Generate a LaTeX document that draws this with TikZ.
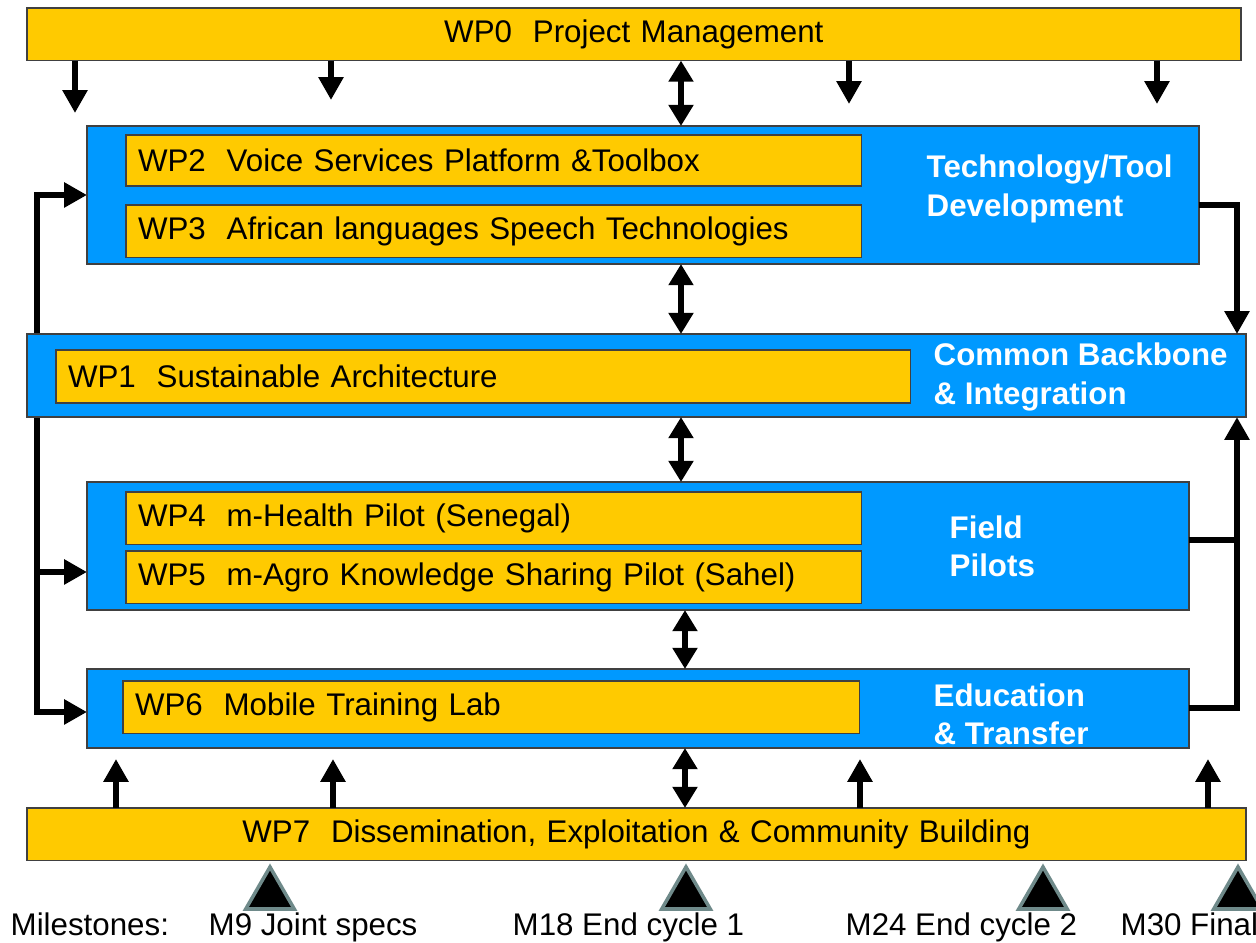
\documentclass[tikz,border=0pt]{standalone}
\usepackage{fontspec}
\setmainfont{Liberation Sans}
\usetikzlibrary{arrows.meta,shapes.geometric,backgrounds}
\definecolor{wpyellow}{HTML}{FFCA00}
\definecolor{grpblue}{HTML}{0099FF}
\definecolor{msgray}{HTML}{6F8A8A}
\tikzset{
  wp/.style={draw=black!75, line width=0.5pt, fill=wpyellow, anchor=north west, outer sep=0pt,
             inner xsep=0.12cm, align=left, font=\fontsize{8.9}{10.7}\selectfont},
  grp/.style={draw=black!75, line width=0.5pt, fill=grpblue, anchor=north west, outer sep=0pt},
  grplabel/.style={text=white, anchor=west, align=left, inner sep=0pt,
                   font=\fontsize{8.9}{10.9}\selectfont\bfseries},
  bus/.style={line width=1.9pt},
  flow/.style={bus, -{Triangle[length=6.5pt,width=6.8pt]}},
  twoway/.style={bus, {Triangle[length=6pt,width=6.8pt]}-{Triangle[length=6pt,width=6.8pt]}},
  milestone/.style={regular polygon, regular polygon sides=3, minimum size=0.56cm, inner sep=0pt,
                    fill=black, draw=msgray, line width=1pt},
  mstext/.style={anchor=base west, inner sep=0pt, font=\fontsize{8.9}{10.7}\selectfont}
}
\begin{document}
\begin{tikzpicture}[x=0.01cm, y=-0.01cm]
        \useasboundingbox (0,0) rectangle (1256,943);
        \node [wp, align=center, text width=11.89cm, minimum height=0.50cm] (wp0) at (27,8)  {WP0\ \ Project Management};        %
        \node [grp, minimum width=11.11cm, minimum height=1.38cm] (tech) at (87,126) {};                                         %tool development
        \node [wp, text width=7.11cm, minimum height=0.51cm] (wp2) at (126,135) {WP2\ \ Voice Services Platform \&Toolbox};      %
        \node [wp, text width=7.11cm, minimum height=0.50cm] (wp3) at (126,205) {WP3\ \ African languages Speech Technologies};  %
        \node [grplabel] (techlbl) at (926,189) {Technology/Tool\\Development};                                                  %
        \node [grp, minimum width=12.18cm, minimum height=0.83cm] (common) at (27,334) {};                                       %backbone
        \node [wp, text width=8.30cm, minimum height=0.53cm] (wp1) at (56,350) {WP1\ \ Sustainable Architecture};                 %
        \node [grplabel] (commonlbl) at (933,377) {Common Backbone\\\& Integration};                                             %
        \node [grp, minimum width=11.01cm, minimum height=1.28cm] (field) at (87,482) {};                                        %pilots
        \node [wp, text width=7.11cm, minimum height=0.51cm] (wp4) at (126,492) {WP4\ \ m-Health Pilot (Senegal)};               %
        \node [wp, text width=7.11cm, minimum height=0.51cm] (wp5) at (126,551) {WP5\ \ m-Agro Knowledge Sharing Pilot (Sahel)}; %
        \node [grplabel] (fieldlbl) at (949,546) {Field\\Pilots};                                                                %
        \node [grp, minimum width=11.01cm, minimum height=0.79cm] (edu) at (87,669) {};                                          %education
        \node [wp, text width=7.12cm, minimum height=0.52cm] (wp6) at (123,681) {WP6\ \ Mobile Training Lab};                    %
        \node [grplabel] (edulbl) at (933,714) {Education\\\& Transfer};                                                         %
        \node [wp, align=center, text width=11.94cm, minimum height=0.52cm] (wp7) at (27,808) {WP7\ \ Dissemination, Exploitation \& Community Building};
        %
        \coordinate (axis)  at (681,0);
        \coordinate (axis2) at (685,0);
        \draw [twoway] (wp0.south -| axis)     -- (tech.north -| axis);     %
        \draw [twoway] (tech.south -| axis)    -- (common.north -| axis);   %
        \draw [twoway] (common.south -| axis)  -- (field.north -| axis);    %
        \draw [twoway] (field.south -| axis2)  -- (edu.north -| axis2);     %
        \draw [twoway] (edu.south -| axis2)    -- (wp7.north -| axis2);     %
        \foreach \x/\y in {75/113, 331/100, 849/104, 1157/104}
          {\coordinate (dn\x) at (\x,\y); \draw [flow] (wp0.south -| dn\x) -- (dn\x);}
        \foreach \x in {116, 333, 860, 1208}
          {\coordinate (up\x) at (\x,759); \draw [flow] (wp7.north -| up\x) -- (up\x);}
        %right side feedback
        \coordinate (rtop) at (1237,205);
        \coordinate (rmid) at (1237,540);
        \coordinate (rbot) at (1237,708);
        \draw [flow] (tech.east |- rtop) -- (rtop) -- (rtop |- common.north);
        \draw [flow] (edu.east |- rbot)  -- (rbot) -- (rbot |- common.south);
        \draw [bus]  (field.east |- rmid) -- (rmid);
        %left side, behind the backbone
        \coordinate (ltop) at (37,195);
        \coordinate (lmid) at (37,572);
        \coordinate (lbot) at (37,712);
        \begin{pgfonlayer}{background}
          \draw [flow] (lbot) -- (ltop) -- (ltop -| tech.west);
          \draw [flow] (ltop) -- (lbot) -- (lbot -| edu.west);
          \draw [flow] (lmid) -- (lmid -| field.west);
        \end{pgfonlayer}
        %milestones
        \foreach \x/\n in {270/m9, 686/m18, 1043/m24, 1238/m30}
          \node [milestone] (\n) at (\x,895) {};
        \node [mstext] (mslbl)  at (10,936)   {Milestones:};
        \node [mstext] (m9lbl)  at (208,936)  {M9 Joint specs};
        \node [mstext] (m18lbl) at (512,936)  {M18 End cycle 1};
        \node [mstext] (m24lbl) at (845,936)  {M24 End cycle 2};
        \node [mstext] (m30lbl) at (1120,936) {M30 Final};
\end{tikzpicture}
\end{document}
